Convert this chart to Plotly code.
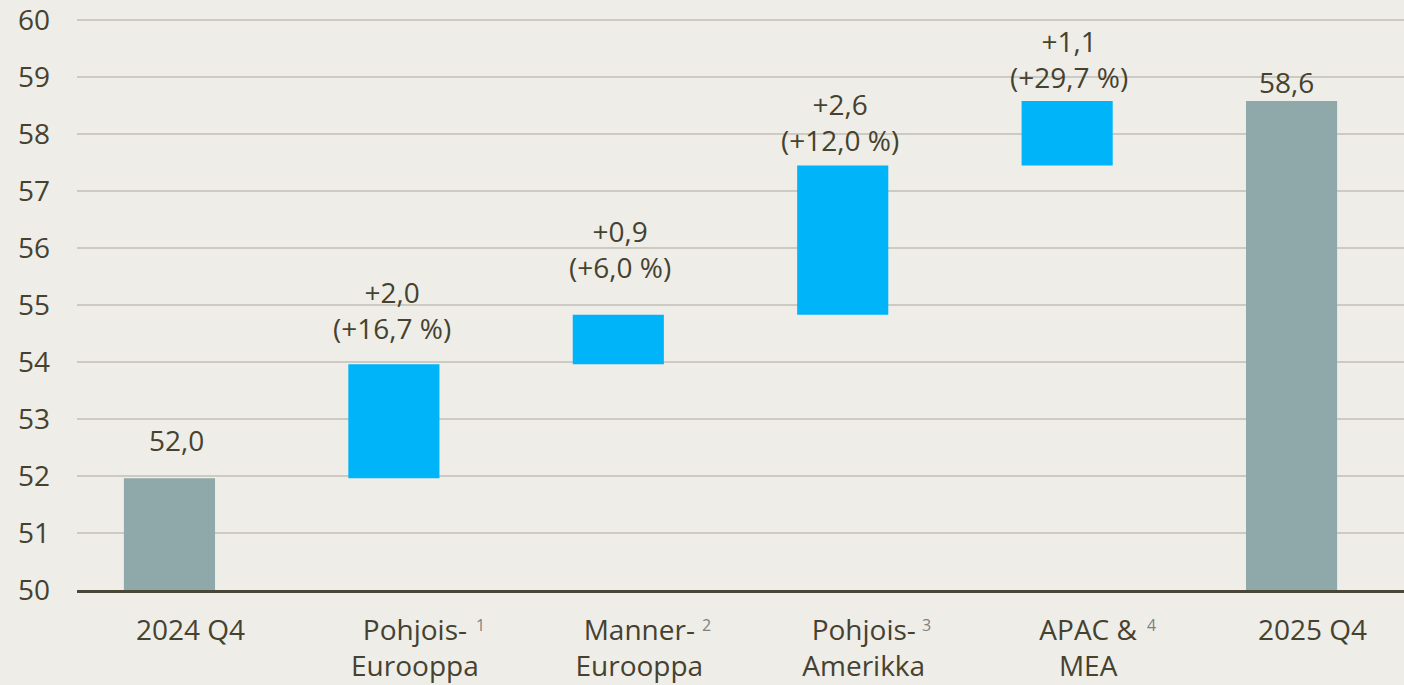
import plotly.graph_objects as go

# ---- data ----
categories = ["2024 Q4", "Pohjois-<br>Eurooppa", "Manner-<br>Eurooppa",
              "Pohjois-<br>Amerikka", "APAC &amp;<br>MEA", "2025 Q4"]
start_value = 51.96
changes = [2.00, 0.87, 2.62, 1.13]
value_labels = ["52,0", "+2,0<br>(+16,7 %)", "+0,9<br>(+6,0 %)",
                "+2,6<br>(+12,0 %)", "+1,1<br>(+29,7 %)", "58,6"]
footnotes = ["", "1", "2", "3", "4", ""]
y_ticks = list(range(50, 61))

# ---- styles ----
BG = "#EFEDE8"
TXT = "#454230"
GRID = "#CCCAC2"
GRAY_BAR = "#8FA8A9"
BLUE_BAR = "#00B4FA"
FONT = "Open Sans"
FS = 28

label_yshift = [38.5, 54, 65.5, 43.5, 42, 19]
label_xshift = [7, -2, 2, -3, 2, -5]
foot_xshift = [0, 80, 82, 77, 78, 0]

x = list(range(len(categories)))
measures = ["absolute"] + ["relative"] * len(changes) + ["total"]
yvals = [start_value] + changes + [0]

# bar tops (for label placement)
tops = []
run = 0
for m, v in zip(measures, yvals):
    if m == "absolute":
        run = v
    elif m == "relative":
        run += v
    tops.append(run)

fig = go.Figure(go.Waterfall(
    x=x, y=yvals, measure=measures,
    width=0.406,
    increasing=dict(marker=dict(color=BLUE_BAR, line=dict(width=0))),
    decreasing=dict(marker=dict(color=BLUE_BAR, line=dict(width=0))),
    totals=dict(marker=dict(color=GRAY_BAR, line=dict(width=0))),
    connector=dict(visible=False),
    hoverinfo="skip",
    cliponaxis=True,
))

annotations = []
for i, (t, lbl) in enumerate(zip(tops, value_labels)):
    annotations.append(dict(
        x=i, y=t, xref="x", yref="y", text=lbl, showarrow=False,
        xanchor="center", yanchor="middle",
        yshift=label_yshift[i], xshift=label_xshift[i],
        font=dict(family=FONT, size=FS, color=TXT),
    ))
for i, fn in enumerate(footnotes):
    if fn:
        annotations.append(dict(
            x=i, y=0, xref="x", yref="paper", text=fn, showarrow=False,
            xanchor="left", yanchor="middle", xshift=foot_xshift[i], yshift=-34.5,
            font=dict(family=FONT, size=16, color="#808080"),
        ))

fig.update_layout(
    width=1404, height=685,
    margin=dict(l=77, r=0, t=19, b=94.5),
    paper_bgcolor=BG, plot_bgcolor=BG,
    showlegend=False,
    font=dict(family=FONT, size=FS, color=TXT),
    annotations=annotations,
    xaxis=dict(
        tickmode="array", tickvals=x, ticktext=categories,
        range=[-0.412, 5.501],
        showgrid=False, zeroline=False,
        showline=True, linecolor="#4A4736", linewidth=3,
        ticks="", ticklabelshift=21, ticklabelstandoff=13,
        tickfont=dict(family=FONT, size=FS, color=TXT),
        layer="above traces",
    ),
    yaxis=dict(
        range=[50, 60.02], tickvals=y_ticks,
        showgrid=True, gridcolor=GRID, gridwidth=2,
        zeroline=False, showline=False, ticks="",
        ticklabelstandoff=26, ticklabeloverflow="allow",
        tickfont=dict(family=FONT, size=FS, color=TXT),
    ),
)

fig.write_html("out.html", config={"displayModeBar": False},
               post_script="document.body.style.margin='0';document.body.style.overflow='hidden';")
